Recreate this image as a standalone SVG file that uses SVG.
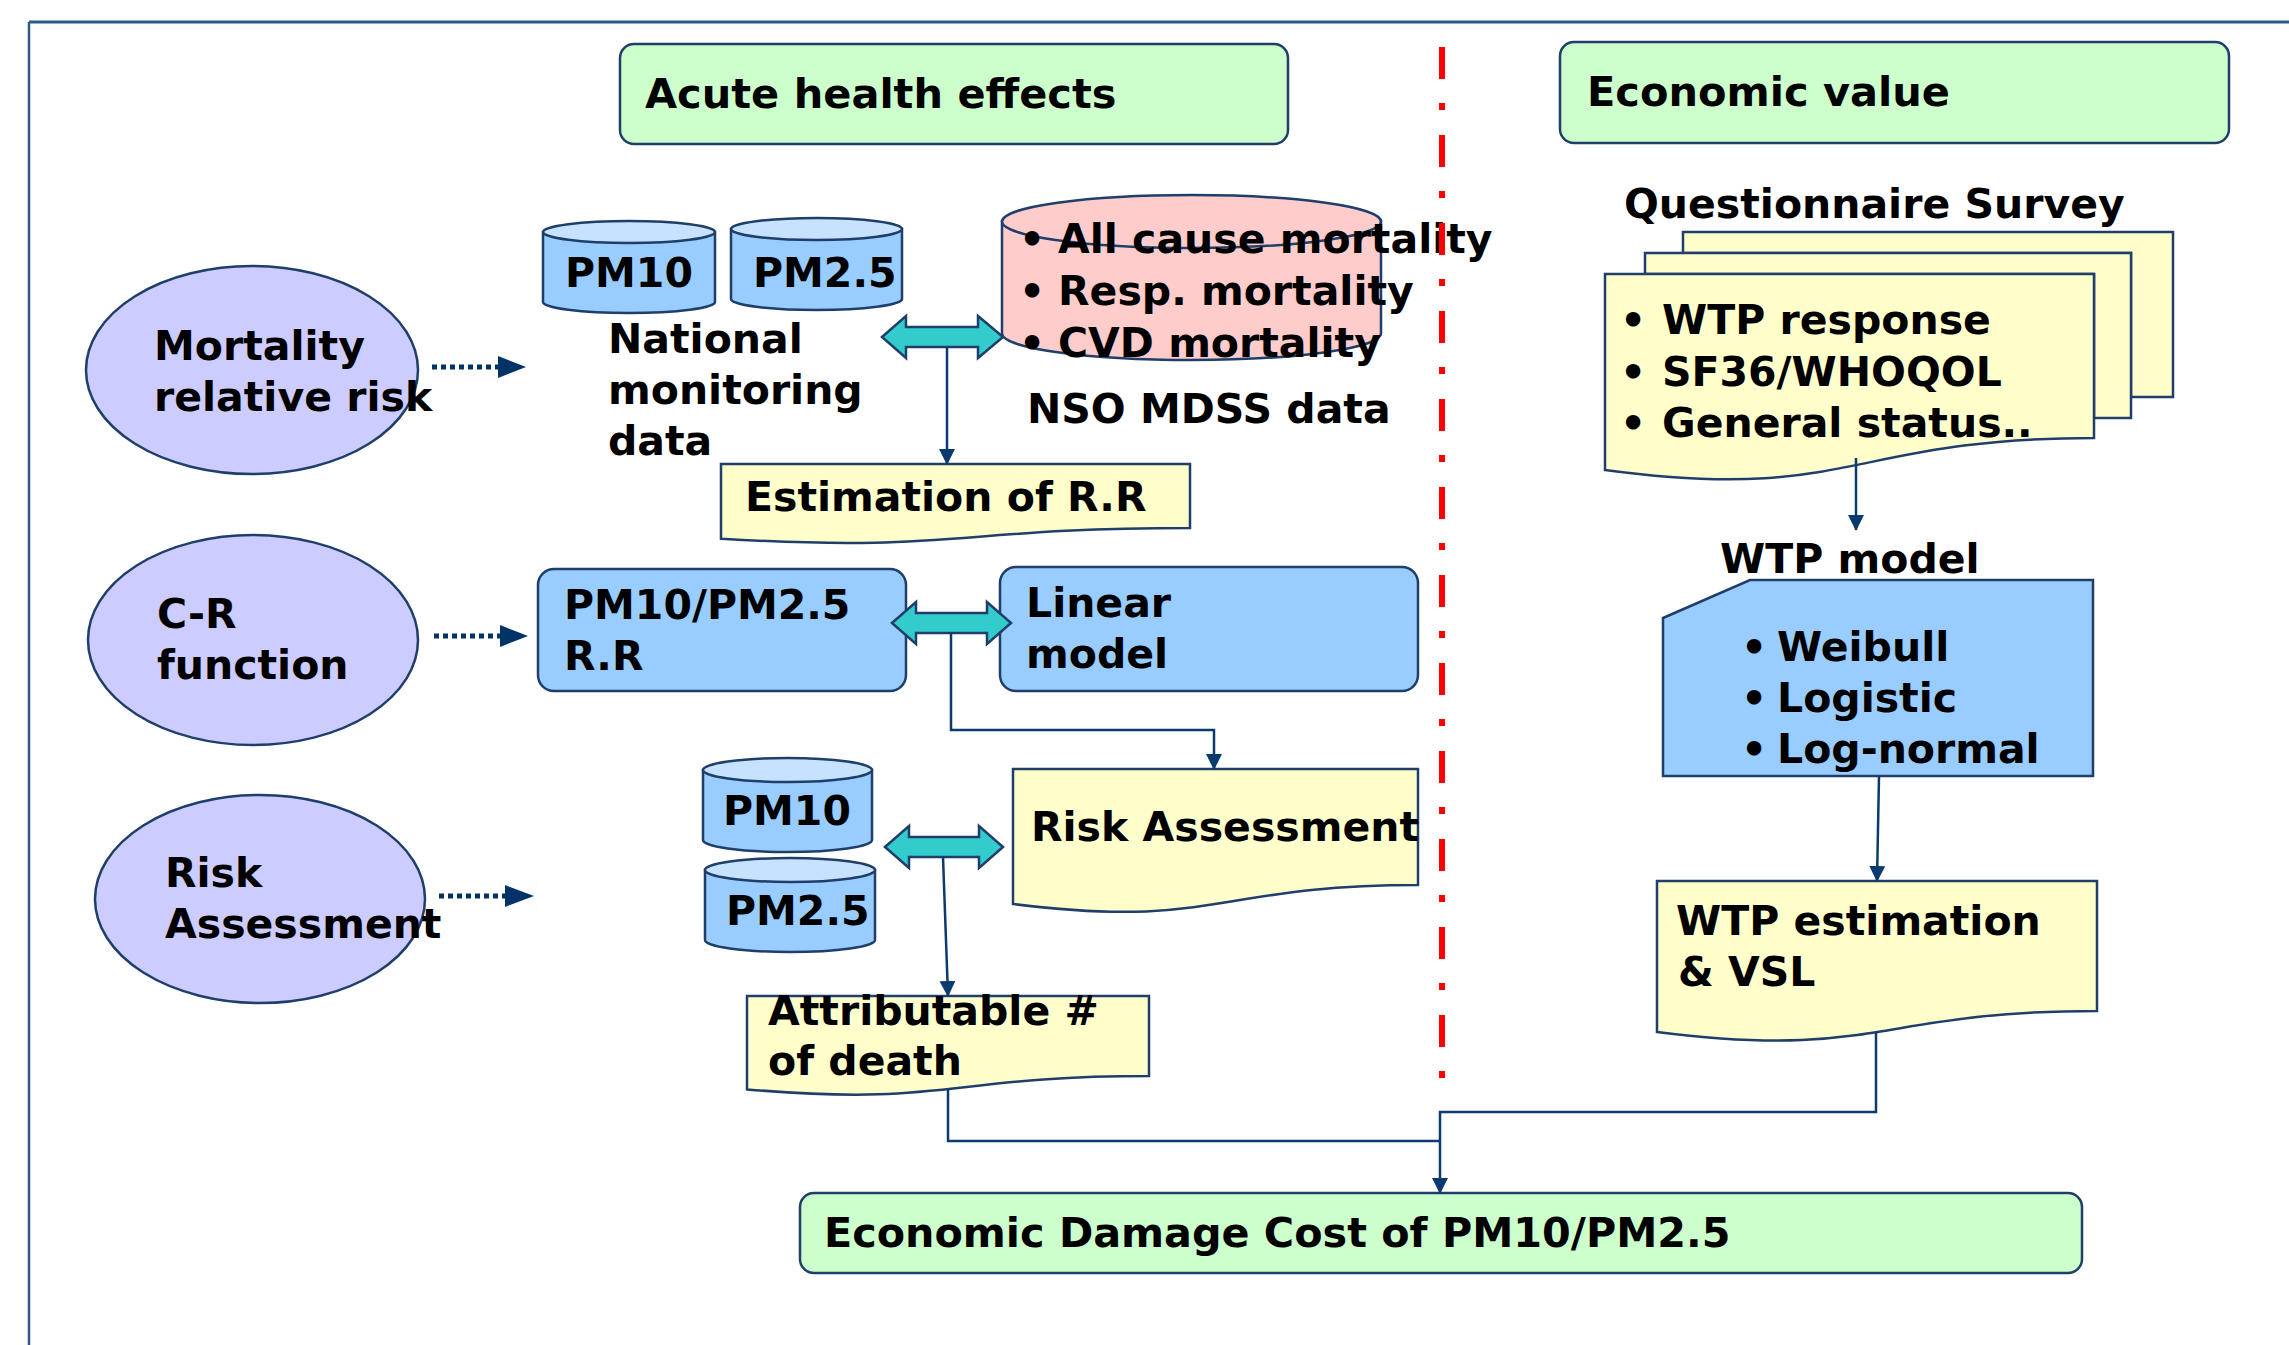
<svg xmlns="http://www.w3.org/2000/svg" width="2289" height="1345" viewBox="0 0 2289 1345">
<defs>
<style>
.t{font-family:"DejaVu Sans","Verdana",sans-serif;font-weight:bold;font-size:41px;fill:#000}
.s{stroke:#1F3F6A;stroke-width:2.5}
.g{fill:#CCFFCC}
.el{fill:#CCCCFF}
.bl{fill:#99CCFF}
.ct{fill:#C6E2FF}
.y{fill:#FFFFCC}
.pk{fill:#FFCCCC}
.teal{fill:#33CCCC;stroke:#1F3F6A;stroke-width:2.5}
.con{fill:none;stroke:#0B3A6E;stroke-width:2.5}
.dot{fill:none;stroke:#003366;stroke-width:5;stroke-dasharray:5 4}
.head{fill:#003366}
</style>
<marker id="ah" markerUnits="userSpaceOnUse" markerWidth="16" markerHeight="16" refX="15" refY="8" orient="auto">
<path d="M0,0 L16,8 L0,16 Z" fill="#0B3A6E"/>
</marker>
</defs>
<rect x="0" y="0" width="2289" height="1345" fill="#FFFFFF"/>
<g id="frame">
<line x1="29" y1="22" x2="2289" y2="22" stroke="#2E5A8A" stroke-width="3"/>
<line x1="29" y1="22" x2="29" y2="1345" stroke="#2E5A8A" stroke-width="2.5"/>
</g>

<g id="acute">
<rect x="620" y="44" width="668" height="100" rx="14" class="g s"/>
<text x="645" y="108" class="t" style="font-size:41.5px">Acute health effects</text>
</g>
<g id="economic-value">
<rect x="1560" y="42" width="669" height="101" rx="14" class="g s"/>
<text x="1587" y="106" class="t" style="font-size:41.5px">Economic value</text>
</g>

<g id="mortality-rr">
<ellipse cx="252" cy="370" rx="166" ry="104" class="el s"/>
<text class="t"><tspan x="154" y="360">Mortality</tspan><tspan x="154" y="411">relative risk</tspan></text>
</g>
<g id="cr-function">
<ellipse cx="253" cy="640" rx="165" ry="105" class="el s"/>
<text class="t"><tspan x="157" y="628">C-R</tspan><tspan x="157" y="679">function</tspan></text>
</g>
<g id="risk-ellipse">
<ellipse cx="260" cy="899" rx="165" ry="104" class="el s"/>
<text class="t"><tspan x="165" y="887">Risk</tspan><tspan x="165" y="938">Assessment</tspan></text>
</g>

<g id="pm10-top">
<path d="M543,232 V302 A86,11 0 0 0 715,302 V232 Z" class="bl s"/>
<ellipse cx="629" cy="232" rx="86" ry="11" class="ct s"/>
<text x="565" y="287" class="t">PM10</text>
</g>
<g id="pm25-top">
<path d="M731,229 V299 A85.5,11 0 0 0 902,299 V229 Z" class="bl s"/>
<ellipse cx="816.5" cy="229" rx="85.5" ry="11" class="ct s"/>
<text x="753" y="287" class="t">PM2.5</text>
</g>
<g id="national">
<text class="t"><tspan x="608" y="353">National</tspan><tspan x="608" y="404">monitoring</tspan><tspan x="608" y="455">data</tspan></text>
</g>

<g id="nso">
<path d="M1002,221.5 V333.5 A189.5,26.5 0 0 0 1381,333.5 V221.5 Z" class="pk s"/>
<ellipse cx="1191.5" cy="221.5" rx="189.5" ry="26.5" class="pk s"/>
<text class="t"><tspan x="1019" y="253">•</tspan><tspan x="1058" y="253">All cause mortality</tspan><tspan x="1019" y="305">•</tspan><tspan x="1058" y="305">Resp. mortality</tspan><tspan x="1019" y="357">•</tspan><tspan x="1058" y="357">CVD mortality</tspan></text>
<text x="1027" y="423" class="t">NSO MDSS data</text>
</g>

<g id="estimation">
<path d="M721,464 H1190 V528 C955,528 955,552.6 721,538.7 Z" class="y s"/>
<text x="745" y="511" class="t">Estimation of R.R</text>
</g>

<g id="pm-rr">
<rect x="538" y="569" width="368" height="122" rx="16" class="bl s"/>
<text class="t"><tspan x="564" y="619">PM10/PM2.5</tspan><tspan x="564" y="670">R.R</tspan></text>
</g>
<g id="linear">
<rect x="1000" y="567" width="418" height="124" rx="16" class="bl s"/>
<text class="t"><tspan x="1026" y="617">Linear</tspan><tspan x="1026" y="668">model</tspan></text>
</g>

<g id="risk-doc">
<path d="M1013,769 H1418 V885 C1215.5,885 1215.5,929.5 1013,904 Z" class="y s"/>
<text x="1031" y="841" class="t">Risk Assessment</text>
</g>

<g id="pm10-low">
<path d="M703,770 V840 A84.5,12 0 0 0 872,840 V770 Z" class="bl s"/>
<ellipse cx="787.5" cy="770" rx="84.5" ry="12" class="ct s"/>
<text x="723" y="825" class="t">PM10</text>
</g>
<g id="pm25-low">
<path d="M705,870 V940 A85,12 0 0 0 875,940 V870 Z" class="bl s"/>
<ellipse cx="790" cy="870" rx="85" ry="12" class="ct s"/>
<text x="726" y="925" class="t">PM2.5</text>
</g>

<g id="attributable">
<path d="M747,996 H1149 V1076 C948,1076 948,1106.7 747,1089.4 Z" class="y s"/>
<text class="t"><tspan x="768" y="1025">Attributable #</tspan><tspan x="768" y="1075">of death</tspan></text>
</g>

<g id="questionnaire">
<text x="1624" y="218" class="t">Questionnaire Survey</text>
<path d="M1683,253 V232 H2173 V397 H2131 V253 Z" class="y s"/>
<path d="M1645,274 V253 H2131 V418 H2094 V274 Z" class="y s"/>
<path d="M1605,274 H2094 V438 C1850,438 1850,503 1605,470 Z" class="y s"/>
<text class="t"><tspan x="1620" y="334">•</tspan><tspan x="1662" y="334">WTP response</tspan><tspan x="1620" y="386">•</tspan><tspan x="1662" y="386">SF36/WHOQOL</tspan><tspan x="1620" y="437">•</tspan><tspan x="1662" y="437">General status..</tspan></text>
</g>

<g id="wtp-model">
<text x="1720" y="573" class="t">WTP model</text>
<path d="M1663,618 L1750,580 H2093 V776 H1663 Z" class="bl s"/>
<text class="t"><tspan x="1741" y="661">•</tspan><tspan x="1777" y="661">Weibull</tspan><tspan x="1741" y="712">•</tspan><tspan x="1777" y="712">Logistic</tspan><tspan x="1741" y="763">•</tspan><tspan x="1777" y="763">Log-normal</tspan></text>
</g>

<g id="wtp-estimation">
<path d="M1657,881 H2097 V1011 C1877,1011 1877,1060 1657,1032 Z" class="y s"/>
<text class="t"><tspan x="1676" y="935">WTP estimation</tspan><tspan x="1678" y="986">&amp; VSL</tspan></text>
</g>

<g id="damage">
<rect x="800" y="1193" width="1282" height="80" rx="14" class="g s"/>
<text x="824" y="1247" class="t" style="font-size:41.3px">Economic Damage Cost of PM10/PM2.5</text>
</g>

<g id="connectors">
<line x1="432" y1="367" x2="500" y2="367" class="dot"/>
<path d="M498,356 L526,367 L498,378 Z" class="head"/>
<line x1="434" y1="636" x2="502" y2="636" class="dot"/>
<path d="M500,625 L528,636 L500,647 Z" class="head"/>
<line x1="439" y1="896" x2="507" y2="896" class="dot"/>
<path d="M505,885 L534,896 L505,907 Z" class="head"/>

<polygon points="882,337 906,316 906,327 978,327 978,316 1003,337 978,358 978,347 906,347 906,358" class="teal"/>
<polygon points="892,623 916,602 916,613 987,613 987,602 1011,623 987,644 987,633 916,633 916,644" class="teal"/>
<polygon points="885,847 909,826 909,837 979,837 979,826 1003,847 979,868 979,857 909,857 909,868" class="teal"/>

<path d="M947,347 V464" class="con" marker-end="url(#ah)"/>
<path d="M951,633 V730 H1214 V769" class="con" marker-end="url(#ah)"/>
<path d="M943,857 L948,996" class="con" marker-end="url(#ah)"/>
<path d="M948,1089 V1141 H1440" class="con"/>
<path d="M1876,1032 V1112 H1440 V1193" class="con" marker-end="url(#ah)"/>
<path d="M1856,458 V530" class="con" marker-end="url(#ah)"/>
<path d="M1879,776 L1877,881" class="con" marker-end="url(#ah)"/>
</g>

<g id="divider">
<line x1="1442" y1="47" x2="1442" y2="1082" stroke="#FF0000" stroke-width="6" stroke-dasharray="32 24 7 25"/>
</g>
</svg>
